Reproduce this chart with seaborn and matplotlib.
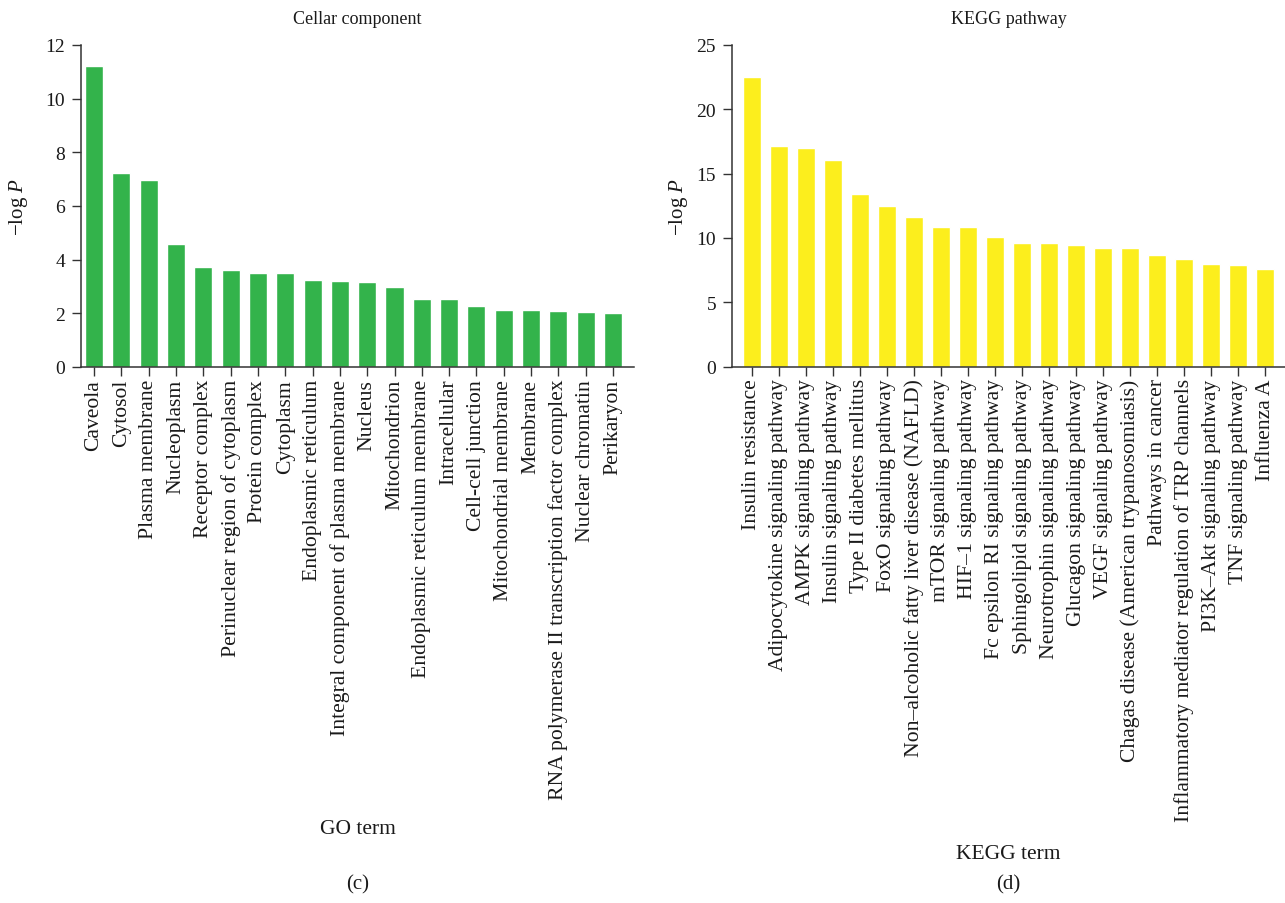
import matplotlib
matplotlib.use("Agg")
import matplotlib.pyplot as plt
import seaborn as sns
import pandas as pd

# GO cellular component enrichment
go_terms = [
    "Caveola", "Cytosol", "Plasma membrane", "Nucleoplasm", "Receptor complex",
    "Perinuclear region of cytoplasm", "Protein complex", "Cytoplasm",
    "Endoplasmic reticulum", "Integral component of plasma membrane", "Nucleus",
    "Mitochondrion", "Endoplasmic reticulum membrane", "Intracellular",
    "Cell-cell junction", "Mitochondrial membrane", "Membrane",
    "RNA polymerase II transcription factor complex", "Nuclear chromatin",
    "Perikaryon",
]
go_logp = [11.22, 7.24, 6.98, 4.59, 3.74, 3.62, 3.51, 3.51, 3.25, 3.21, 3.18,
           2.99, 2.55, 2.55, 2.26, 2.14, 2.14, 2.10, 2.06, 2.02]

# KEGG pathway enrichment
kegg_terms = [
    "Insulin resistance", "Adipocytokine signaling pathway",
    "AMPK signaling pathway", "Insulin signaling pathway",
    "Type II diabetes mellitus", "FoxO signaling pathway",
    "Non\u2013alcoholic fatty liver disease (NAFLD)", "mTOR signaling pathway",
    "HIF\u20131 signaling pathway", "Fc epsilon RI signaling pathway",
    "Sphingolipid signaling pathway", "Neurotrophin signaling pathway",
    "Glucagon signaling pathway", "VEGF signaling pathway",
    "Chagas disease (American trypanosomiasis)", "Pathways in cancer",
    "Inflammatory mediator regulation of TRP channels",
    "PI3K\u2013Akt signaling pathway", "TNF signaling pathway", "Influenza A",
]
kegg_logp = [22.55, 17.12, 16.97, 16.04, 13.40, 12.47, 11.62, 10.84, 10.84,
             10.07, 9.60, 9.60, 9.45, 9.21, 9.21, 8.67, 8.36, 7.97, 7.90, 7.58]

sns.set_style("ticks")
plt.rcParams["font.family"] = ["Liberation Serif", "DejaVu Serif"]
plt.rcParams["mathtext.fontset"] = "custom"
plt.rcParams["mathtext.rm"] = "Liberation Serif"
plt.rcParams["mathtext.it"] = "Liberation Serif:italic"

W, H = 1285, 904
fig = plt.figure(figsize=(W / 100, H / 100), dpi=100)


def px_axes(x0, x1, y_top, y_bot):
    return fig.add_axes([x0 / W, 1 - y_bot / H, (x1 - x0) / W, (y_bot - y_top) / H])


ax1 = px_axes(81, 634, 46, 368)
ax2 = px_axes(732, 1285, 46, 367.5)

edge = "#333333"
txt = "#1a1a1a"
panels = [
    (ax1, go_terms, go_logp, "#33b34b", (0, 12), [0, 2, 4, 6, 8, 10, 12],
     (-0.48, 19.77), "Cellar component", "GO term", 820, "(c)", -51),
    (ax2, kegg_terms, kegg_logp, "#fcee1d", (0, 25), [0, 5, 10, 15, 20, 25],
     (-0.74, 19.74), "KEGG pathway", "KEGG term", 845, "(d)", -42),
]

for ax, terms, vals, col, ylim, yticks, xlim, title, xlab, xlab_top, tag, ylab_dx in panels:
    df = pd.DataFrame({"term": terms, "logp": vals})
    sns.barplot(data=df, x="term", y="logp", color=col, saturation=1,
                width=0.66, ax=ax)
    ax.set_ylim(*ylim)
    ax.set_yticks(yticks)
    ax.set_xlim(*xlim)
    sns.despine(ax=ax)
    for s in ("left", "bottom"):
        ax.spines[s].set_color(edge)
        ax.spines[s].set_linewidth(1.1)
    ax.tick_params(axis="x", length=6.5, width=1.0, color=edge, pad=2,
                   labelsize=15.6, labelrotation=90, labelcolor=txt)
    ax.tick_params(axis="y", length=6.5, width=1.0, color=edge, pad=5,
                   labelsize=14, labelcolor=txt)
    ax.set_title(title, fontsize=13, color=txt, pad=16)
    ax.set_ylabel(r"$\mathrm{-log}\ P$", fontsize=15, color=txt)
    ax.set_xlabel(xlab, fontsize=15.5, color=txt, va="top")
    bb = ax.get_position()
    ax_bot_px = (1 - bb.y0) * H
    ax.xaxis.set_label_coords(0.5, -(xlab_top - ax_bot_px) / (bb.height * H))
    ax.yaxis.set_label_coords(ylab_dx / (bb.width * W), 0.5)
    fig.text(bb.x0 + bb.width / 2, 1 - 885 / H, tag, ha="center",
             va="center", fontsize=15, color=txt)

fig.savefig("out.png", dpi=100)
